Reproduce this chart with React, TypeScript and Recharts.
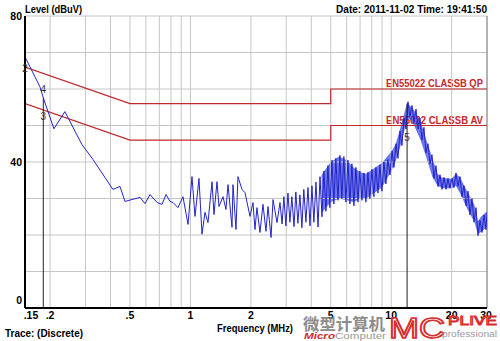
import {
	Area,
	ComposedChart,
	Line,
	ReferenceDot,
	ReferenceLine,
	XAxis,
	YAxis,
} from "recharts";

const FONT = "'Liberation Sans', Arial, sans-serif";

// axis ticks and grid
const freqTicks = [0.15, 0.2, 0.5, 1, 2, 5, 10, 20, 30];
const freqTickLabels = [".15", ".2", ".5", "1", "2", "5", "10", "20", "30"];
const gridFreqs = [0.2, 0.3, 0.4, 0.5, 0.6, 0.7, 0.8, 0.9, 1, 2, 3, 4, 5, 6, 7, 8, 9, 10, 20];
const levelTicks = [0, 40, 80];
const gridLevels = [10, 20, 30, 40, 50, 60, 70, 80];

// EN55022 class B limits
const qpFreq = [0.15, 0.5, 5, 5, 30];
const qpLevel = [66, 56, 56, 60, 60];
const avFreq = [0.15, 0.5, 5, 5, 30];
const avLevel = [56, 46, 46, 50, 50];

// measured trace (MHz, dBuV)
const traceFreq = [
	0.15, 0.178, 0.185, 0.209, 0.237, 0.288, 0.327, 0.411, 0.446, 0.472,
	0.561, 0.594, 0.629, 0.682, 0.722, 0.756, 0.791, 0.819, 0.867, 0.918,
	0.973, 1.018, 1.054, 1.103, 1.142, 1.182, 1.223, 1.281, 1.31, 1.356,
	1.388, 1.453, 1.503, 1.539, 1.611, 1.629, 1.686, 1.725, 1.806, 1.87,
	1.98, 2.049, 2.097, 2.145, 2.22, 2.298, 2.379, 2.434, 2.52, 2.579,
	2.699, 2.793,
	2.86, 2.92, 2.99, 3.06, 3.13, 3.2, 3.28, 3.35, 3.43, 3.51,
	3.59, 3.67, 3.76, 3.85, 3.94, 4.03, 4.12, 4.22, 4.32, 4.42,
	4.52, 4.62, 4.73, 4.84, 4.95,
	5.07, 5.18, 5.3, 5.43, 5.55, 5.68, 5.81, 5.95, 6.09, 6.23,
	6.37, 6.52, 6.67, 6.83, 6.98, 7.15, 7.31, 7.48, 7.66, 7.83,
	8.02, 8.2, 8.39, 8.59, 8.79, 8.99, 9.2, 9.41, 9.63, 9.86,
	10.09, 10.32, 10.56, 10.81, 11.06, 11.31, 11.58, 11.85, 12.12, 12.4,
	12.69, 12.99, 13.29, 13.6, 13.91, 14.23, 14.56, 14.9, 15.25, 15.6,
	15.96, 16.33, 16.71, 17.1, 17.5, 17.9, 18.32, 18.74, 19.18, 19.62,
	20.08, 20.54, 21.02, 21.51, 22.01, 22.52, 23.04, 23.58, 24.12, 24.68,
	25.26, 25.84, 26.44, 27.06, 27.69, 28.33, 28.99, 29.66, 30,
];
const traceLevel = [
	68.8, 60.6, 57.6, 49.1, 53.8, 44.8, 40.7, 32.5, 33.3, 29.2,
	30.3, 28.6, 31.1, 28.9, 28.4, 31.1, 29.2, 28.9, 27.5, 30.5,
	22.9, 36, 25.1, 35.5, 20.2, 26.2, 23.4, 34.6, 25.6, 34.6,
	27.8, 30.5, 27, 33.8, 22.1, 33.8, 21.5, 36, 32.5, 31.6,
	25.1, 28.9, 21.5, 27.5, 20.7, 28.4, 21, 27.8, 19.3, 29.7,
	23.4, 28.9,
	23, 30.5, 22.5, 31.5, 23.5, 30.5, 22.3, 31.8, 23.2, 31,
	22, 32.5, 23.5, 33, 22.5, 33.5, 23.5, 34.5, 22.2, 36,
	25, 37.5, 26.5, 39, 27.5,
	40.5, 28.5, 41, 29.5, 41.8, 30, 41.5, 29, 40.5, 28.5,
	39.5, 28, 38.5, 29, 37.5, 29.5, 37, 29, 37.2, 30,
	38, 30.5, 38.5, 31.5, 39.2, 32, 40, 34, 40.7, 36.5,
	43, 38.5, 45, 41, 48.5, 44.5, 52, 49, 56.5, 52.5,
	55.5, 51, 54.5, 49, 52, 46, 49.5, 42.5, 45, 39.5,
	42, 35.5, 39, 33.3, 36.5, 32.5, 35.8, 32.5, 35.5, 32.8,
	35.5, 33, 37, 33.3, 36, 30.5, 33.5, 28, 32, 25.5,
	30, 23.5, 27.5, 19.8, 24, 20.7, 25.5, 21.5, 26,
];

// dense noise band above 4.5 MHz (envelope)
const bandFreq = [4.5, 5, 5.5, 6, 6.5, 7, 7.5, 8, 9, 10, 10.5, 11, 11.5, 12, 12.5, 13, 14, 15, 16, 17, 18, 20, 21, 22, 24, 26, 27, 28, 30];
const bandLow = [26, 29, 30, 29.5, 29, 30, 30, 31, 33, 37.5, 40, 43.5, 47.5, 52, 51.5, 50, 46, 41, 36, 33.5, 32.8, 32.8, 33.5, 31.5, 27, 23.5, 20.2, 20.8, 22.2];
const bandHigh = [36.5, 40, 41.5, 40.5, 38.5, 37.2, 36.8, 37.8, 39.8, 42.8, 44.8, 48.5, 52.5, 56.2, 55.2, 54.2, 51.2, 45.8, 41.2, 36.8, 35.6, 35.4, 36.8, 35.8, 31.8, 28.2, 23.8, 25, 26.5];

// markers
const markerLineFreq = [0.185, 12];
const markerLineTop = [57.6, 56];
const markerIds = ["2", "3", "4", "5"];
const markerLabelFreq = [0.15, 0.185, 0.185, 12];
const markerLabelLevel = [65.6, 52.4, 59.8, 46.7];

function FreqTick({ x, y, payload }: any) {
	const i = freqTicks.indexOf(payload.value);
	const dx = payload.value === 0.15 ? 6 : payload.value === 30 ? -1 : 0;
	return (
		<text x={x + dx} y={y + 11} textAnchor="middle" fontSize={10.5} fontWeight="bold" fill="#000" fontFamily={FONT}>
			{i >= 0 ? freqTickLabels[i] : payload.value}
		</text>
	);
}

function LevelTick({ x, y, payload }: any) {
	const dy = payload.value === 0 ? -3.7 : 3.8;
	return (
		<text x={x} y={y + dy} textAnchor="end" fontSize={10.5} fontWeight="bold" fill="#000" fontFamily={FONT}>
			{payload.value}
		</text>
	);
}

export default function App() {
	const qpData = qpFreq.map((f, i) => ({ f, qp: qpLevel[i] }));
	const avData = avFreq.map((f, i) => ({ f, av: avLevel[i] }));
	const traceData = traceFreq.map((f, i) => ({ f, level: traceLevel[i] }));
	const bandData = bandFreq.map((f, i) => ({ f, range: [bandLow[i], bandHigh[i]] }));

	return (
		<div style={{ position: "absolute", left: 0, top: 0, width: 500, height: 341, background: "#fff", overflow: "hidden" }}>
			{/* limit labels sit under the trace */}
			<svg width={500} height={341} style={{ position: "absolute", left: 0, top: 0 }}>
				<text x={386} y={87} fontSize={10.5} fontWeight="bold" fill="#c8282d" fontFamily={FONT} textLength={97} lengthAdjust="spacingAndGlyphs">
					EN55022 CLASSB QP
				</text>
				<text x={386} y={124} fontSize={10.5} fontWeight="bold" fill="#c8282d" fontFamily={FONT} textLength={97} lengthAdjust="spacingAndGlyphs">
					EN55022 CLASSB AV
				</text>
			</svg>
			<div style={{ position: "absolute", left: 0, top: 0 }}>
				<ComposedChart width={500} height={341} margin={{ top: 16, right: 13, bottom: 3, left: 0 }}>
					<XAxis
						dataKey="f"
						type="number"
						scale="log"
						domain={[0.15, 30]}
						allowDataOverflow
						ticks={freqTicks}
						interval={0}
						tick={FreqTick}
						tickSize={0}
						tickMargin={0}
						height={30}
						axisLine={{ stroke: "#000", strokeWidth: 2 }}
						tickLine={false}
					/>
					<YAxis
						type="number"
						domain={[0, 80]}
						allowDataOverflow
						ticks={levelTicks}
						interval={0}
						tick={LevelTick}
						tickSize={0}
						tickMargin={3}
						width={25}
						axisLine={{ stroke: "#000", strokeWidth: 2 }}
						tickLine={false}
					/>
					{gridLevels.map((v) => (
						<ReferenceLine key={`h${v}`} y={v} stroke="#c6c6c6" strokeWidth={1} />
					))}
					{gridFreqs.map((f) => (
						<ReferenceLine key={`v${f}`} x={f} stroke="#c6c6c6" strokeWidth={1} />
					))}
					<ReferenceLine x={30} stroke="#666" strokeWidth={1} />
					<Line data={qpData} dataKey="qp" type="linear" stroke="#c0282d" strokeWidth={1.2} dot={false} isAnimationActive={false} />
					<Line data={avData} dataKey="av" type="linear" stroke="#c0282d" strokeWidth={1.2} dot={false} isAnimationActive={false} />
					<Area data={bandData} dataKey="range" type="linear" fill="#1f2fe0" fillOpacity={0.65} stroke="none" isAnimationActive={false} />
					<Line data={traceData} dataKey="level" type="linear" stroke="#2424c8" strokeWidth={1} dot={false} isAnimationActive={false} />
					{markerLineFreq.map((f, i) => (
						<ReferenceLine
							key={`m${f}`}
							segment={[
								{ x: f, y: 0 },
								{ x: f, y: markerLineTop[i] },
							]}
							stroke="#222"
							strokeWidth={1}
						/>
					))}
					{markerIds.map((id, i) => (
						<ReferenceDot
							key={`l${id}`}
							x={markerLabelFreq[i]}
							y={markerLabelLevel[i]}
							r={1}
							fill="none"
							stroke="none"
							label={{ value: id, position: "center", fontSize: 10, fill: "#333", fontFamily: FONT }}
						/>
					))}
				</ComposedChart>
			</div>
			<svg width={500} height={341} style={{ position: "absolute", left: 0, top: 0, pointerEvents: "none" }}>
				<text x={25} y={13} fontSize={11.5} fontWeight="bold" fill="#000" fontFamily={FONT} textLength={57} lengthAdjust="spacingAndGlyphs">
					Level (dBuV)
				</text>
				<text x={336} y={13} fontSize={11.5} fontWeight="bold" fill="#000" fontFamily={FONT} textLength={151} lengthAdjust="spacingAndGlyphs">
					Date: 2011-11-02  Time: 19:41:50
				</text>
				<text x={217} y={332} fontSize={11.5} fontWeight="bold" fill="#000" fontFamily={FONT} textLength={76} lengthAdjust="spacingAndGlyphs">
					Frequency (MHz)
				</text>
				<text x={5} y={337} fontSize={11.5} fontWeight="bold" fill="#000" fontFamily={FONT} textLength={78} lengthAdjust="spacingAndGlyphs">
					Trace: (Discrete)
				</text>
				{/* watermark */}
				<text x={303} y={330} fontSize={16} fontWeight="bold" fill="#8c8c8c" fontFamily="'Noto Sans CJK SC', sans-serif" textLength={82} lengthAdjust="spacingAndGlyphs">
					微型计算机
				</text>
				<text x={304} y={339} fontSize={9} fontFamily={FONT} textLength={82} lengthAdjust="spacingAndGlyphs">
					<tspan fill="#d42a2a" fontWeight="bold" fontStyle="italic">Micro</tspan>
					<tspan fill="#9a9a9a">Computer</tspan>
				</text>
				<text x={389} y={338} fontSize={29} fill="#fff" stroke="#d82c2c" strokeWidth={1.6} fontFamily={FONT} textLength={56} lengthAdjust="spacingAndGlyphs">
					MC
				</text>
				<text x={448} y={325} fontSize={13} fill="#fff" stroke="#d82c2c" strokeWidth={1} fontFamily={FONT} textLength={49} lengthAdjust="spacingAndGlyphs">
					PLIVE
				</text>
				<text x={442} y={337} fontSize={9} fill="#9a9a9a" fontFamily={FONT} textLength={55} lengthAdjust="spacingAndGlyphs">
					professional
				</text>
			</svg>
		</div>
	);
}
